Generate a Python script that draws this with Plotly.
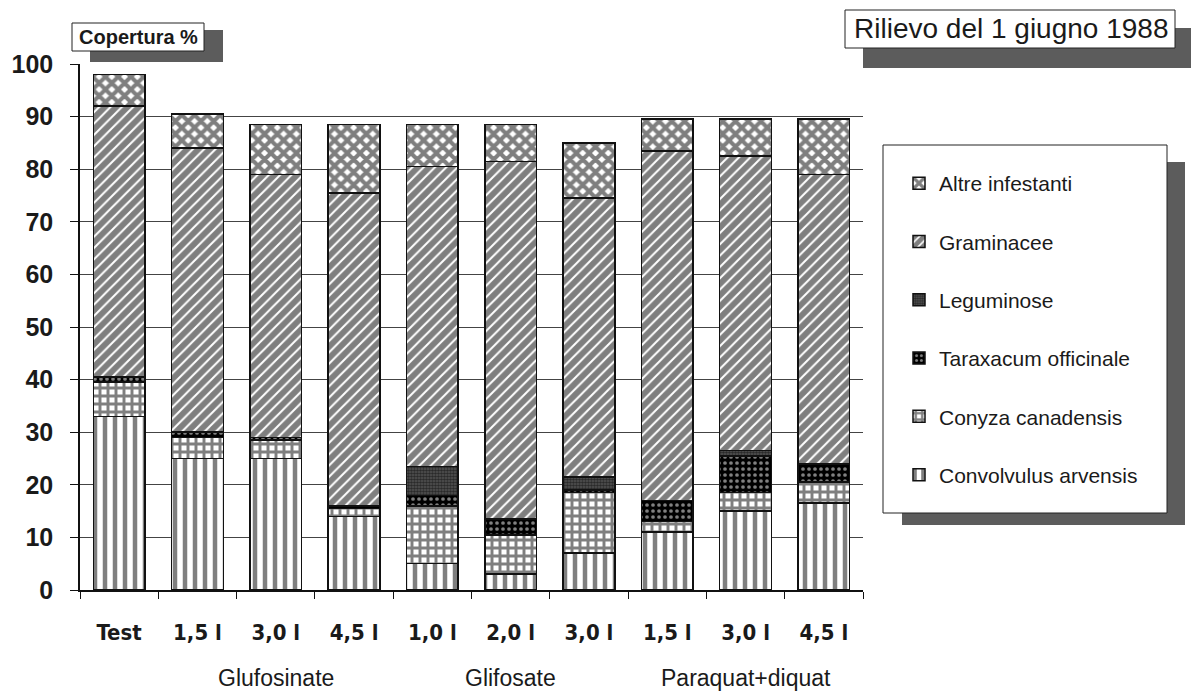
import plotly.graph_objects as go

# ---------------- data ----------------
doses = ["Test", "1,5 l", "3,0 l", "4,5 l", "1,0 l", "2,0 l", "3,0 l", "1,5 l", "3,0 l", "4,5 l"]
herbicide = ["", "Glufosinate", "Glufosinate", "Glufosinate",
             "Glifosate", "Glifosate", "Glifosate",
             "Paraquat+diquat", "Paraquat+diquat", "Paraquat+diquat"]

convolvulus = [33.0, 25.0, 25.0, 14.0, 5.0, 3.0, 7.0, 11.0, 15.0, 16.5]
conyza      = [6.5, 4.0, 3.5, 1.5, 11.0, 7.5, 11.5, 2.0, 3.5, 4.0]
taraxacum   = [1.0, 1.0, 0.5, 0.5, 2.0, 3.0, 0.5, 4.0, 7.0, 3.5]
leguminose  = [0.0, 0.0, 0.0, 0.0, 5.5, 0.0, 2.5, 0.0, 1.0, 0.0]
graminacee  = [51.5, 54.0, 50.0, 59.5, 57.0, 68.0, 53.0, 66.5, 56.0, 55.0]
altre       = [6.0, 6.5, 9.5, 13.0, 8.0, 7.0, 10.5, 6.0, 7.0, 10.5]

series_names = ["Convolvulus arvensis", "Conyza canadensis", "Taraxacum officinale",
                "Leguminose", "Graminacee", "Altre infestanti"]
series_values = [convolvulus, conyza, taraxacum, leguminose, graminacee, altre]

y_ticks = [0, 10, 20, 30, 40, 50, 60, 70, 80, 90, 100]

# ---------------- styles ----------------
patterns = {
    "Convolvulus arvensis": dict(shape="|", bgcolor="white", fgcolor="black", size=10, solidity=0.45),
    "Conyza canadensis":    dict(shape="+", bgcolor="white", fgcolor="black", size=8, solidity=0.6),
    "Taraxacum officinale": dict(shape=".", bgcolor="black", fgcolor="white", size=6, solidity=0.3),
    "Leguminose":           dict(shape=".", bgcolor="#555", fgcolor="black", size=3, solidity=0.6),
    "Graminacee":           dict(shape="/", bgcolor="white", fgcolor="black", size=8, solidity=0.75),
    "Altre infestanti":     dict(shape="x", bgcolor="white", fgcolor="black", size=9, solidity=0.7),
}

W, H = 1192, 695
PL, PR, PT, PB = 80, 863, 64, 590


def fx(px):
    return (px - PL) / (PR - PL)


def fy(py):
    return (PB - py) / (PB - PT)


xpos = list(range(len(doses)))
n = len(series_names)

fig = go.Figure()
for k, (name, vals) in enumerate(zip(series_names, series_values)):
    fig.add_trace(go.Bar(
        x=xpos, y=vals, name=name, legendgroup=name, legendrank=n - k,
        width=0.66,
        marker=dict(color="white", pattern=patterns[name],
                    line=dict(color="#111", width=1.5)),
    ))

TEXT = "#1a1a1a"
fig.update_layout(
    width=W, height=H,
    barmode="stack",
    paper_bgcolor="white", plot_bgcolor="white",
    margin=dict(l=PL, r=W - PR, t=PT, b=H - PB, pad=0, autoexpand=False),
    font=dict(family="Liberation Sans, Arial, sans-serif", color=TEXT),
    showlegend=True,
    legend=dict(
        x=fx(899), y=fy(163), xanchor="left", yanchor="top",
        bgcolor="rgba(0,0,0,0)", borderwidth=0,
        traceorder="grouped", tracegroupgap=28,
        font=dict(family="Liberation Sans, Arial, sans-serif", size=21, color=TEXT),
    ),
    xaxis=dict(
        range=[-0.5, len(doses) - 0.5], automargin=False,
        tickvals=xpos, ticktext=doses,
        ticks="", showgrid=False, zeroline=False,
        showline=True, linecolor="#111", linewidth=1.5,
        tickfont=dict(family="Liberation Sans Narrow, DejaVu Sans Condensed, Liberation Sans, sans-serif",
                      size=22, weight="bold", color=TEXT),
        ticklabelstandoff=22,
        minor=dict(tickvals=[i - 0.5 for i in range(len(doses) + 1)], ticks="outside",
                   ticklen=7, tickcolor="#111", tickwidth=1, showgrid=False),
    ),
    yaxis=dict(
        range=[0, 100], tickvals=y_ticks, automargin=False,
        showgrid=True, gridcolor="#444", gridwidth=1,
        zeroline=False,
        showline=True, linecolor="#111", linewidth=1.5,
        ticks="outside", ticklen=8, tickcolor="#111", tickwidth=1,
        tickfont=dict(family="Liberation Sans, Arial, sans-serif", size=25, weight="bold", color=TEXT),
        ticklabelstandoff=12,
    ),
)

SHADOW = "#5c5c5c"
shapes = []
# "Copertura %" box
shapes.append(dict(type="rect", xref="paper", yref="paper", x0=fx(90), x1=fx(223), y0=fy(62), y1=fy(30),
                   fillcolor=SHADOW, line=dict(width=0)))
shapes.append(dict(type="rect", xref="paper", yref="paper", x0=fx(72), x1=fx(204), y0=fy(51), y1=fy(23),
                   fillcolor="white", line=dict(color="#222", width=1)))
# Title box
shapes.append(dict(type="rect", xref="paper", yref="paper", x0=fx(863), x1=fx(1191), y0=fy(68), y1=fy(28),
                   fillcolor=SHADOW, line=dict(width=0)))
shapes.append(dict(type="rect", xref="paper", yref="paper", x0=fx(845), x1=fx(1175), y0=fy(48), y1=fy(10),
                   fillcolor="white", line=dict(color="#222", width=1)))
# Legend box
shapes.append(dict(type="rect", xref="paper", yref="paper", x0=fx(902), x1=fx(1185), y0=fy(525), y1=fy(162),
                   fillcolor=SHADOW, line=dict(width=0)))
shapes.append(dict(type="rect", xref="paper", yref="paper", x0=fx(883), x1=fx(1167), y0=fy(513), y1=fy(145),
                   fillcolor="white", line=dict(color="#222", width=1)))
fig.update_layout(shapes=shapes)

annotations = [
    dict(text="Copertura %", xref="paper", yref="paper", x=fx(138), y=fy(37),
         xanchor="center", yanchor="middle", showarrow=False,
         font=dict(size=20, weight="bold", color=TEXT)),
    dict(text="Rilievo del 1 giugno 1988", xref="paper", yref="paper", x=fx(1011), y=fy(29),
         xanchor="center", yanchor="middle", showarrow=False,
         font=dict(size=28, color=TEXT)),
]
# herbicide group labels under the dose labels
groups = []
for i, g in enumerate(herbicide):
    if g and g not in groups:
        groups.append(g)
for g in groups:
    idx = [i for i, h in enumerate(herbicide) if h == g]
    annotations.append(dict(text=g, xref="x", yref="paper", x=sum(idx) / len(idx), y=fy(678),
                            xanchor="center", yanchor="middle", showarrow=False,
                            font=dict(size=23, color=TEXT)))
fig.update_layout(annotations=annotations)

fig.write_html("out.html", config={"displayModeBar": False},
               post_script="document.body.style.margin='0';document.body.style.overflow='hidden';")
